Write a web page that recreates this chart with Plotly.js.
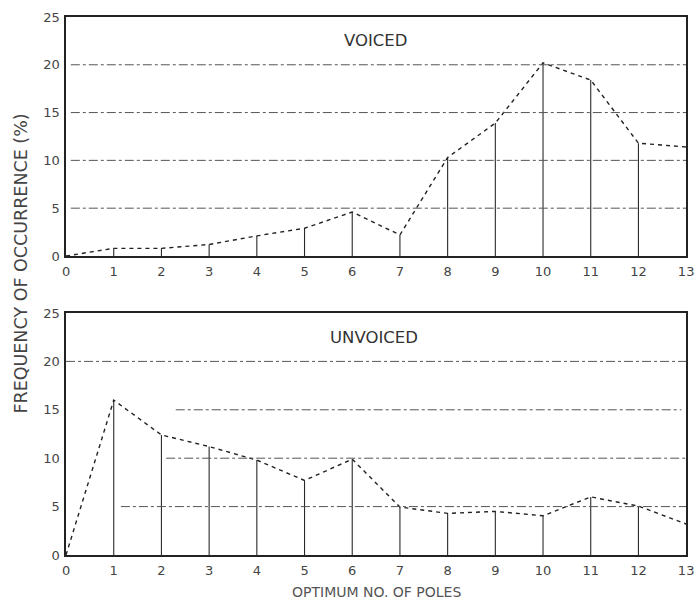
<!DOCTYPE html>
<html>
<head>
<meta charset="utf-8">
<script src="https://cdn.plot.ly/plotly-3.0.1.min.js"></script>
<style>html,body{margin:0;padding:0;background:#fff;}#chart{width:698px;height:606px;}</style>
</head>
<body>
<div id="chart"></div>
<script>
// Data
var poles = [0,1,2,3,4,5,6,7,8,9,10,11,12,13];
var voiced = [0,0.8,0.8,1.2,2.1,2.9,4.6,2.2,10.3,13.9,20.2,18.4,11.8,11.4];
var unvoiced = [0,16.0,12.4,11.2,9.8,7.7,9.9,4.95,4.3,4.5,4.05,6.0,5.05,3.2];
var xTickLabels = ['0','1','2','3','4','5','6','7','8','9','10','11','12','13'];
var yTicks = [0,5,10,15,20,25];
var panelLabels = ['VOICED','UNVOICED'];
var yTitle = 'FREQUENCY OF OCCURRENCE (%)';
var xTitle = 'OPTIMUM NO. OF POLES';

function stems(xs, ys) {
  var sx = [], sy = [];
  for (var i = 1; i < xs.length - 1; i++) {
    sx.push(xs[i], xs[i], null);
    sy.push(0, ys[i], null);
  }
  return {x: sx, y: sy};
}

var ink = '#222';
var sv = stems(poles, voiced), su = stems(poles, unvoiced);

var traces = [
  {x: sv.x, y: sv.y, xaxis: 'x', yaxis: 'y', mode: 'lines', line: {color: '#2a2a2a', width: 1.1}, hoverinfo: 'skip', showlegend: false},
  {x: poles, y: voiced, xaxis: 'x', yaxis: 'y', mode: 'lines', line: {color: ink, width: 1.4, dash: '4px,4px'}, showlegend: false},
  {x: su.x, y: su.y, xaxis: 'x2', yaxis: 'y2', mode: 'lines', line: {color: '#2a2a2a', width: 1.1}, hoverinfo: 'skip', showlegend: false},
  {x: poles, y: unvoiced, xaxis: 'x2', yaxis: 'y2', mode: 'lines', line: {color: ink, width: 1.4, dash: '4px,4px'}, showlegend: false}
];

var gridStyle = {color: '#555', width: 1, dash: 'dashdot'};
var shapes = [];
// top panel reference lines
[[5,0.1,13],[10,0.1,13],[15,0.1,13],[20,0.1,13]].forEach(function(g){
  shapes.push({type:'line', xref:'x', yref:'y', x0:g[1], x1:g[2], y0:g[0], y1:g[0], line:gridStyle});
});
// bottom panel reference lines
[[5,1.15,13],[10,2.1,13],[15,2.3,12.9],[20,0,13]].forEach(function(g){
  shapes.push({type:'line', xref:'x2', yref:'y2', x0:g[1], x1:g[2], y0:g[0], y1:g[0], line:gridStyle});
});

var tickFont = {family: 'DejaVu Sans, sans-serif', size: 13, color: '#444'};
function xax(anchor) {
  return {domain:[0.0946,0.983], range:[0,13], anchor:anchor, tickvals:poles, ticktext:xTickLabels,
    showgrid:false, zeroline:false, showline:true, mirror:true, linecolor:ink, linewidth:1.6,
    ticks:'', tickfont:tickFont, ticklabelstandoff:3, automargin:false};
}
function yax(anchor, dom) {
  return {domain:dom, range:[0,25], anchor:anchor, tickvals:yTicks, showgrid:false, zeroline:false,
    showline:true, mirror:true, linecolor:ink, linewidth:1.6, ticks:'', tickfont:tickFont, ticklabelstandoff:2, automargin:false};
}

var labelFont = {family:'DejaVu Sans, sans-serif', size:16.5, color:'#333'};
var layout = {
  width: 698, height: 606,
  margin: {l:0, r:0, t:0, b:0},
  paper_bgcolor: '#fff', plot_bgcolor: '#fff',
  xaxis: xax('y'), yaxis: yax('x',[0.5776,0.972]),
  xaxis2: xax('y2'), yaxis2: yax('x2',[0.0842,0.4835]),
  shapes: shapes,
  annotations: [
    {text: panelLabels[0], xref:'x', yref:'y', x:6.5, y:22.5, showarrow:false, font:labelFont},
    {text: panelLabels[1], xref:'x2', yref:'y2', x:6.45, y:22.5, showarrow:false, font:labelFont},
    {text: yTitle, xref:'paper', yref:'paper', x:0.03, xanchor:'center', y:0.565, yanchor:'middle', textangle:-90, showarrow:false, font:{family:'DejaVu Sans, sans-serif', size:17.5, color:'#444'}},
    {text: xTitle, xref:'paper', yref:'paper', x:0.54, xanchor:'center', y:0.023, yanchor:'middle', showarrow:false, font:{family:'DejaVu Sans, sans-serif', size:14, color:'#555'}}
  ]
};

Plotly.newPlot('chart', traces, layout, {staticPlot: true});
</script>
</body>
</html>
